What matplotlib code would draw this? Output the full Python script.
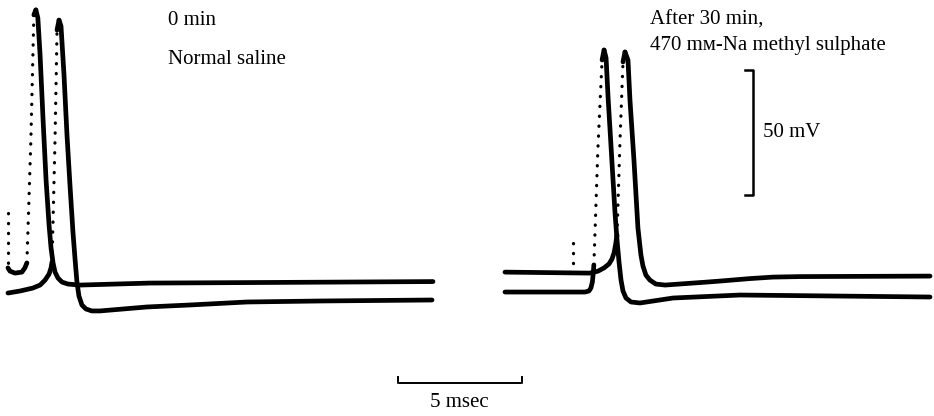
import matplotlib
matplotlib.use("Agg")
import matplotlib.pyplot as plt

# ---------------- data (time in ms from sweep start, potential in mV, display offset) ----
sweep_start = [0.32, 20.28]          # ms, left and right panel sweep origins

# Left panel, 0 min, normal saline
a_t = [0.00, 0.08, 0.28, 0.56, 0.68, 0.76, 0.92, 1.04, 1.12, 1.20, 1.29, 1.41, 1.53,
       1.65, 1.73, 1.81, 1.89, 2.01, 2.17, 2.41, 2.89, 5.70, 9.72, 17.07]
a_v = [12.9, 11.6, 10.8, 11.2, 12.9, 14.9, 64.3, 114.5, 116.5, 113.3, 98.4, 72.3, 48.2,
       30.1, 20.9, 14.9, 11.2, 8.8, 7.2, 6.4, 6.0, 6.8, 7.0, 7.4]
a_rise = (5, 8)

b_t = [0.00, 0.48, 1.00, 1.29, 1.49, 1.65, 1.73, 1.77, 1.89, 1.97, 2.05, 2.13, 2.25,
       2.37, 2.49, 2.61, 2.69, 2.77, 2.85, 2.97, 3.13, 3.37, 3.69, 5.58, 7.31, 9.60,
       12.53, 17.03]
b_v = [2.8, 3.6, 4.8, 6.0, 8.0, 10.4, 12.9, 15.3, 64.3, 108.4, 112.4, 110.0, 90.4,
       66.3, 46.2, 27.3, 16.9, 7.2, 1.6, -2.0, -3.6, -4.4, -4.4, -2.8, -2.0, -0.8,
       -0.4, 0.0]
b_rise = (7, 10)

# Right panel, after 30 min in 470 mM-Na methyl sulphate
d_t = [0.00, 3.21, 3.37, 3.45, 3.51, 3.55, 3.57, 3.73, 3.90, 3.98, 4.06, 4.14, 4.22,
       4.34, 4.42, 4.50, 4.58, 4.66, 4.74, 4.86, 5.06, 5.42, 6.75, 9.44, 17.07]
d_v = [3.2, 3.2, 3.6, 4.8, 7.2, 11.2, 14.1, 60.2, 96.4, 100.4, 97.2, 81.5, 68.3,
       48.2, 34.9, 24.1, 15.3, 8.0, 3.6, 0.8, -0.8, -1.2, 0.8, 2.0, 1.2]
d_rise = (6, 9)

c_t = [0.00, 3.41, 3.74, 3.98, 4.18, 4.30, 4.38, 4.44, 4.50, 4.62, 4.74, 4.82, 4.94,
       5.02, 5.18, 5.34, 5.46, 5.54, 5.66, 5.82, 6.06, 6.43, 8.11, 8.63, 9.84, 10.76,
       11.85, 17.07]
c_v = [11.2, 10.8, 11.6, 12.9, 14.5, 16.5, 18.9, 22.1, 26.1, 64.3, 95.6, 99.6, 96.4,
       80.3, 56.2, 28.9, 18.1, 13.7, 10.0, 8.0, 6.4, 6.0, 7.2, 7.6, 8.6, 9.2, 9.4, 9.6]
c_rise = (8, 11)

# stimulus artefacts: (panel, time from sweep start, v from, v to)
artefacts = [(0, 0.00, 35.0, 14.0), (1, 2.73, 22.9, 7.2)]

scale_ms = 5
scale_mV = 50

labels_left = ["0 min", "Normal saline"]
labels_right = ["After 30 min,", "470 mм-Na methyl sulphate"]
scale_ms_label = "5 msec"
scale_mV_label = "50 mV"

# ---------------- drawing ----------------
W, H = 934, 416
fig = plt.figure(figsize=(W / 100, H / 100), dpi=100)
ax = fig.add_axes([0, 0, 1, 1])
ax.set_xlim(0, W / 24.9)
ax.set_ylim(-116 / 2.49, 300 / 2.49)
ax.axis("off")

solid_kw = dict(color="black", lw=3.4, solid_capstyle="round", solid_joinstyle="round")
dot_kw = dict(color="black", lw=2.3, linestyle=(0, (0.1, 3.0)), dash_capstyle="round")


def draw_trace(panel, t, v, rise):
    t0 = sweep_start[panel]
    tt = [t0 + x for x in t]
    i0, i1 = rise
    ax.plot(tt[:i0 + 1], v[:i0 + 1], **solid_kw)
    ax.plot(tt[i0:i1 + 1], v[i0:i1 + 1], **dot_kw)
    ax.plot(tt[i1 - 1:i1 + 1], v[i1 - 1:i1 + 1], **solid_kw)
    ax.plot(tt[i1:], v[i1:], **solid_kw)


draw_trace(0, a_t, a_v, a_rise)
draw_trace(0, b_t, b_v, b_rise)
draw_trace(1, d_t, d_v, d_rise)
draw_trace(1, c_t, c_v, c_rise)

for panel, t, v0, v1 in artefacts:
    ax.plot([sweep_start[panel] + t] * 2, [v0, v1], **dot_kw)

# time scale bar
tb0, tbv = 15.98, -33.3
ax.plot([tb0, tb0, tb0 + scale_ms, tb0 + scale_ms], [tbv + 2.2, tbv, tbv, tbv + 2.2],
        color="black", lw=1.4)
# voltage scale bar
vbt, vb0 = 30.24, 42.2
ax.plot([vbt - 0.32, vbt, vbt, vbt - 0.32], [vb0 + scale_mV, vb0 + scale_mV, vb0, vb0],
        color="black", lw=1.8)

font = dict(family=["Liberation Serif", "DejaVu Serif"], fontsize=15, color="black")
fig.text(168 / W, 1 - 25 / H, labels_left[0], va="baseline", ha="left", **font)
fig.text(168 / W, 1 - 64 / H, labels_left[1], va="baseline", ha="left", **font)
fig.text(650 / W, 1 - 25 / H, labels_right[0], va="baseline", ha="left", **font)
fig.text(650 / W, 1 - 50 / H, labels_right[1], va="baseline", ha="left", **font)
fig.text(763 / W, 1 - 137 / H, scale_mV_label, va="baseline", ha="left", **font)
fig.text(459 / W, 1 - 412 / H, scale_ms_label, va="bottom", ha="center", **font)

fig.savefig("out.png", dpi=100)
